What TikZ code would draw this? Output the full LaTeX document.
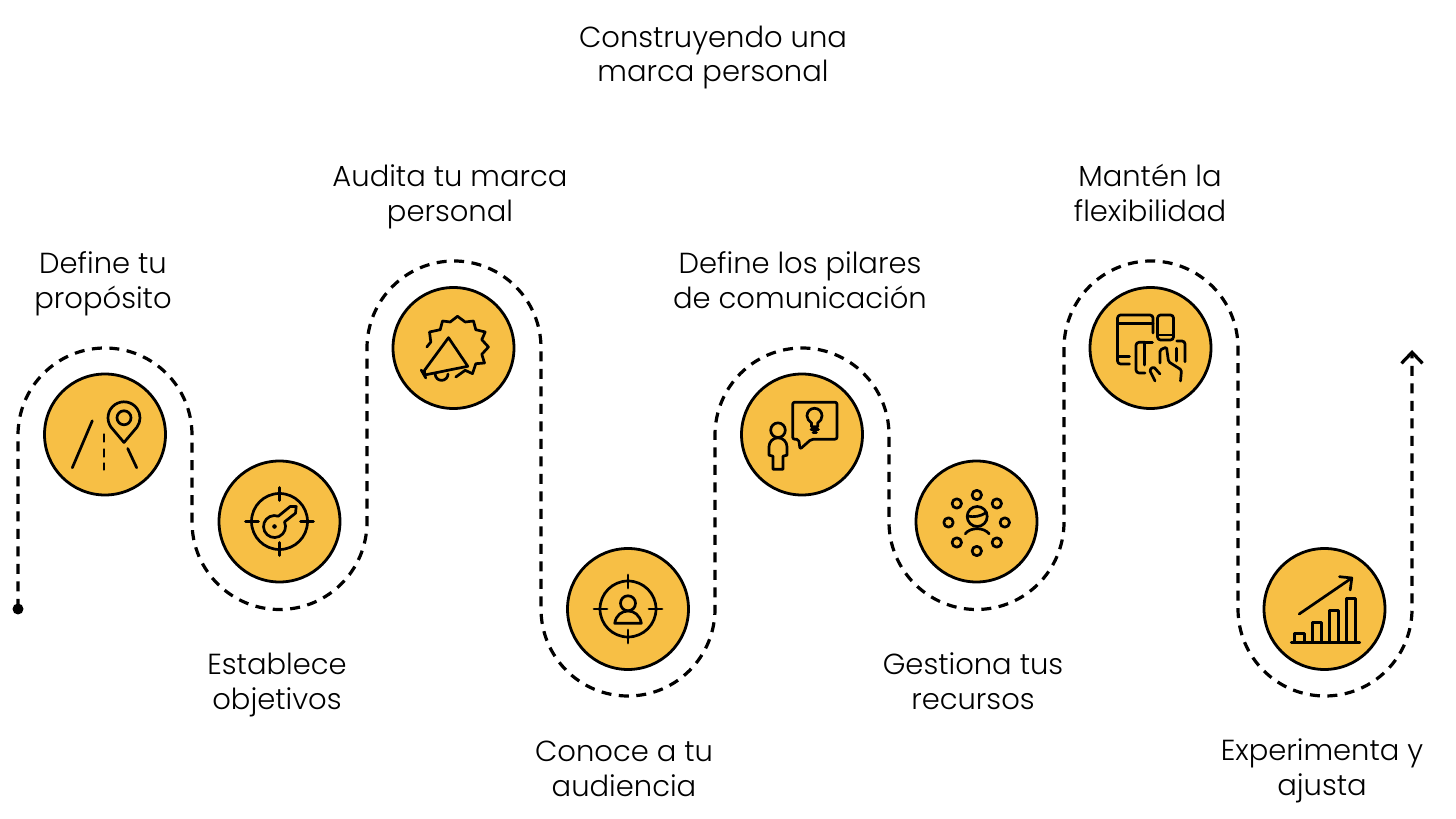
\documentclass[tikz,border=0pt]{standalone}
\usepackage{fontspec}
\setmainfont{Poppins Light}
\usepackage{xcolor}
\usetikzlibrary{arrows.meta,positioning}
\definecolor{markyellow}{HTML}{F7BF45}
\tikzset{
  stepdisc/.style={circle,draw=black,line width=2.8pt,fill=markyellow,minimum size=121pt,inner sep=0pt},
  roadline/.style={line width=3.2pt,dash pattern=on 10pt off 7.5pt,-{Straight Barb[length=11pt,width=21pt,line width=3.2pt]}},
  steplabel/.style={align=center,font=\fontsize{29}{34.5}\selectfont},
  icon/.style={line width=2.7pt,line cap=round,line join=round}
}
\begin{document}
\begin{tikzpicture}[x=1pt,y=1pt]
  \useasboundingbox (0,0) rectangle (1456,819);

  % Title
  \node[steplabel] (title) at (713,761.5) {Construyendo una\\marca personal};

  % Winding road
  \coordinate (start) at (18,210);
  \coordinate (finish) at (1412,469);
  \draw[roadline] (start) -- (18,384) arc[start angle=180,end angle=0,radius=87]
    -- (192,297) arc[start angle=180,end angle=360,radius=87.5]
    -- (367,471) arc[start angle=180,end angle=0,radius=87]
    -- (541,210) arc[start angle=180,end angle=360,radius=87]
    -- (715,384) arc[start angle=180,end angle=0,radius=87]
    -- (889,297) arc[start angle=180,end angle=360,radius=87.5]
    -- (1064,471) arc[start angle=180,end angle=0,radius=87]
    -- (1238,210) arc[start angle=180,end angle=360,radius=87]
    -- (finish);
  \fill (start) circle (5.5);

  % Stops
  \node[stepdisc] (purpose) at (105,384.5) {};
  \node[stepdisc] (goals) at (279.5,297.5) {};
  \node[stepdisc] (audit) at (453.5,471) {};
  \node[stepdisc] (audience) at (628,210) {};
  \node[stepdisc] (pillars) at (802,384.5) {};
  \node[stepdisc] (resources) at (976.5,297.5) {};
  \node[stepdisc] (flexible) at (1150.5,471) {};
  \node[stepdisc] (adjust) at (1324.5,210) {};

  % Labels
  \node[steplabel] (purposetext) at (103,535) {Define tu\\propósito};
  \node[steplabel] (goalstext) at (277,134) {Establece\\objetivos};
  \node[steplabel] (audittext) at (450,622) {Audita tu marca\\personal};
  \node[steplabel] (audiencetext) at (624,50) {Conoce a tu\\audiencia};
  \node[steplabel] (pillarstext) at (800,539) {Define los pilares\\de comunicación};
  \node[steplabel] (resourcestext) at (973,138) {Gestiona tus\\recursos};
  \node[steplabel] (flexibletext) at (1150,626) {Mantén la\\flexibilidad};
  \node[steplabel] (adjusttext) at (1322,48) {Experimenta y\\ajusta};

  % Road and pin
  \begin{scope}[shift={(purpose)},icon]
    \draw (-12.7,13.7) -- (-32.7,-33.3);
    \draw (-1,0) -- (-1,-7) (-1,-15) -- (-1,-22) (-1,-29) -- (-1,-35);
    \draw (22.7,-14) -- (31.7,-33.3);
    \draw (19,-8) -- (5.9,7.5) arc[start angle=215,end angle=-35,radius=16] -- cycle;
    \draw (19,16.7) circle (7);
  \end{scope}

  % Key in target
  \begin{scope}[shift={(goals)},icon]
    \draw (0,0) circle (28);
    \draw (-34,0) -- (-21,0) (21,0) -- (34,0) (0,21) -- (0,34) (0,-21) -- (0,-34);
    \draw (10.7,15) -- (16.7,15) -- (16,8.3) -- (5,-0.4) arc[start angle=25,end angle=-290,radius=11] -- cycle;
    \fill (-5,-5) circle (2.3);
  \end{scope}

  % Megaphone
  \begin{scope}[shift={(audit)},icon]
    \draw (-26.7,1) -- (-22.7,6) -- (-24,16) -- (-13.3,18.3) -- (-11,27) -- (-3.3,26) -- (4,31.7)
      -- (11.7,26) -- (20,27) -- (22.3,18.3) -- (31.7,16) -- (28.3,8.3) -- (35,1) -- (28.3,-6.3)
      -- (31,-15) -- (22.3,-15.7) -- (19,-25.7) -- (11.7,-22.3) -- (2.3,-29);
    \draw[fill=markyellow] (-29,-22.3) -- (-5,10.3) -- (14.3,-18.3) -- (-29,-27) -- cycle;
    \draw (-32.3,-22) -- (-27.7,-30);
    \draw (-18.3,-26) arc[start angle=180,end angle=360,radius=6.4];
  \end{scope}

  % Person in target
  \begin{scope}[shift={(audience)},icon]
    \draw (0,0) circle (28);
    \draw (-34,0) -- (-21,0) (21,0) -- (34,0) (0,21) -- (0,34) (0,-21) -- (0,-34);
    \draw (0,5.7) circle (7.5);
    \draw (-13.3,-14.3) -- (13.3,-14.3) .. controls (12,-6) and (6,-2) .. (0,-2) .. controls (-6,-2) and (-12,-6) .. cycle;
  \end{scope}

  % Person with idea
  \begin{scope}[shift={(pillars)},icon]
    \draw[rounded corners=2pt] (-3.3,-4.7) -- (-9.3,-4.7) -- (-9.3,32.3) -- (35,32.3) -- (35,-4.7) -- (9.3,-4.7) -- (-2,-14.7) -- cycle;
    \draw (9.5,7.7) -- (9.5,11.5) .. controls (7,13.5) and (5,15.5) .. (5,18.7)
      arc[start angle=180,end angle=0,radius=7.5] .. controls (20.2,15.5) and (18.2,13.5) .. (15.7,11.5) -- (15.7,7.7) -- cycle;
    \draw (9,5) -- (16.5,5) (11,2) -- (14.5,2);
    \draw (-24,4.3) circle (7.3);
    \draw (-29,-34.7) -- (-19,-34.7) -- (-19,-21.7) -- (-15,-20.7) -- (-15,-12.3) arc[start angle=0,end angle=180,radius=9]
      -- (-33,-20.7) -- (-29,-21.7) -- cycle;
  \end{scope}

  % People circle
  \begin{scope}[shift={(resources)},icon]
    \draw (0.3,26.5) circle (4.7);
    \draw (-19.7,18) circle (4.7);
    \draw (20.3,18) circle (4.7);
    \draw (-28,-1) circle (4.7);
    \draw (28.3,-1) circle (4.7);
    \draw (-19.7,-21) circle (4.7);
    \draw (20.3,-21) circle (4.7);
    \draw (0.3,-29.5) circle (4.7);
    \draw (0.7,5) circle (10);
    \draw (-9,5.5) .. controls (-3,4) and (4,5) .. (10,9);
    \draw (-11.3,-12.3) .. controls (-6,-5.5) and (7,-5.5) .. (12.7,-12.3);
  \end{scope}

  % Devices and hand
  \begin{scope}[shift={(flexible)},icon]
    \draw[rounded corners=3pt] (-21,-16) -- (-33,-16) -- (-33,33) -- (2.5,33) -- (2.5,15);
    \draw (-33,-8.7) -- (-21,-8.7);
    \draw (-33,24.7) -- (2.5,24.7);
    \draw[rounded corners=3pt] (7,33) rectangle (23,8);
    \draw (7,13) -- (23,13);
    \draw[rounded corners=3pt] (-6,5.7) -- (-14.5,5.7) -- (-14.5,-25) -- (-5.5,-25);
    \draw[rounded corners=3pt] (26.2,7) -- (34.5,7) -- (34.5,-13.7);
    \draw (-6,5.7) -- (-6,-17);
    \draw (-6,5.7) -- (2,5.7);
    \draw (26,-0.3) -- (26,-13);
    \draw[rounded corners=1.5pt] (9.5,-15) -- (9.5,-2) -- (16,1) -- (18,-13.7) -- (31,-22) -- (30,-33);
    \draw[rounded corners=1.5pt] (4.5,-33) -- (-1,-22) -- (3,-18.7) -- (9.5,-26);
  \end{scope}

  % Bars and arrow
  \begin{scope}[shift={(adjust)},icon]
    \draw (-33.3,-33.3) -- (35.3,-33.3);
    \draw (-30,-33.3) rectangle (-20.3,-24.3);
    \draw (-12,-33.3) rectangle (-3.3,-13.3);
    \draw (4.7,-33.3) rectangle (14,-1.3);
    \draw (22.3,-33.3) rectangle (31.3,10.7);
    \draw (-25.3,-5) -- (27.3,31);
    \draw (15,32.3) -- (27.3,31) -- (25.7,19);
  \end{scope}
\end{tikzpicture}
\end{document}
